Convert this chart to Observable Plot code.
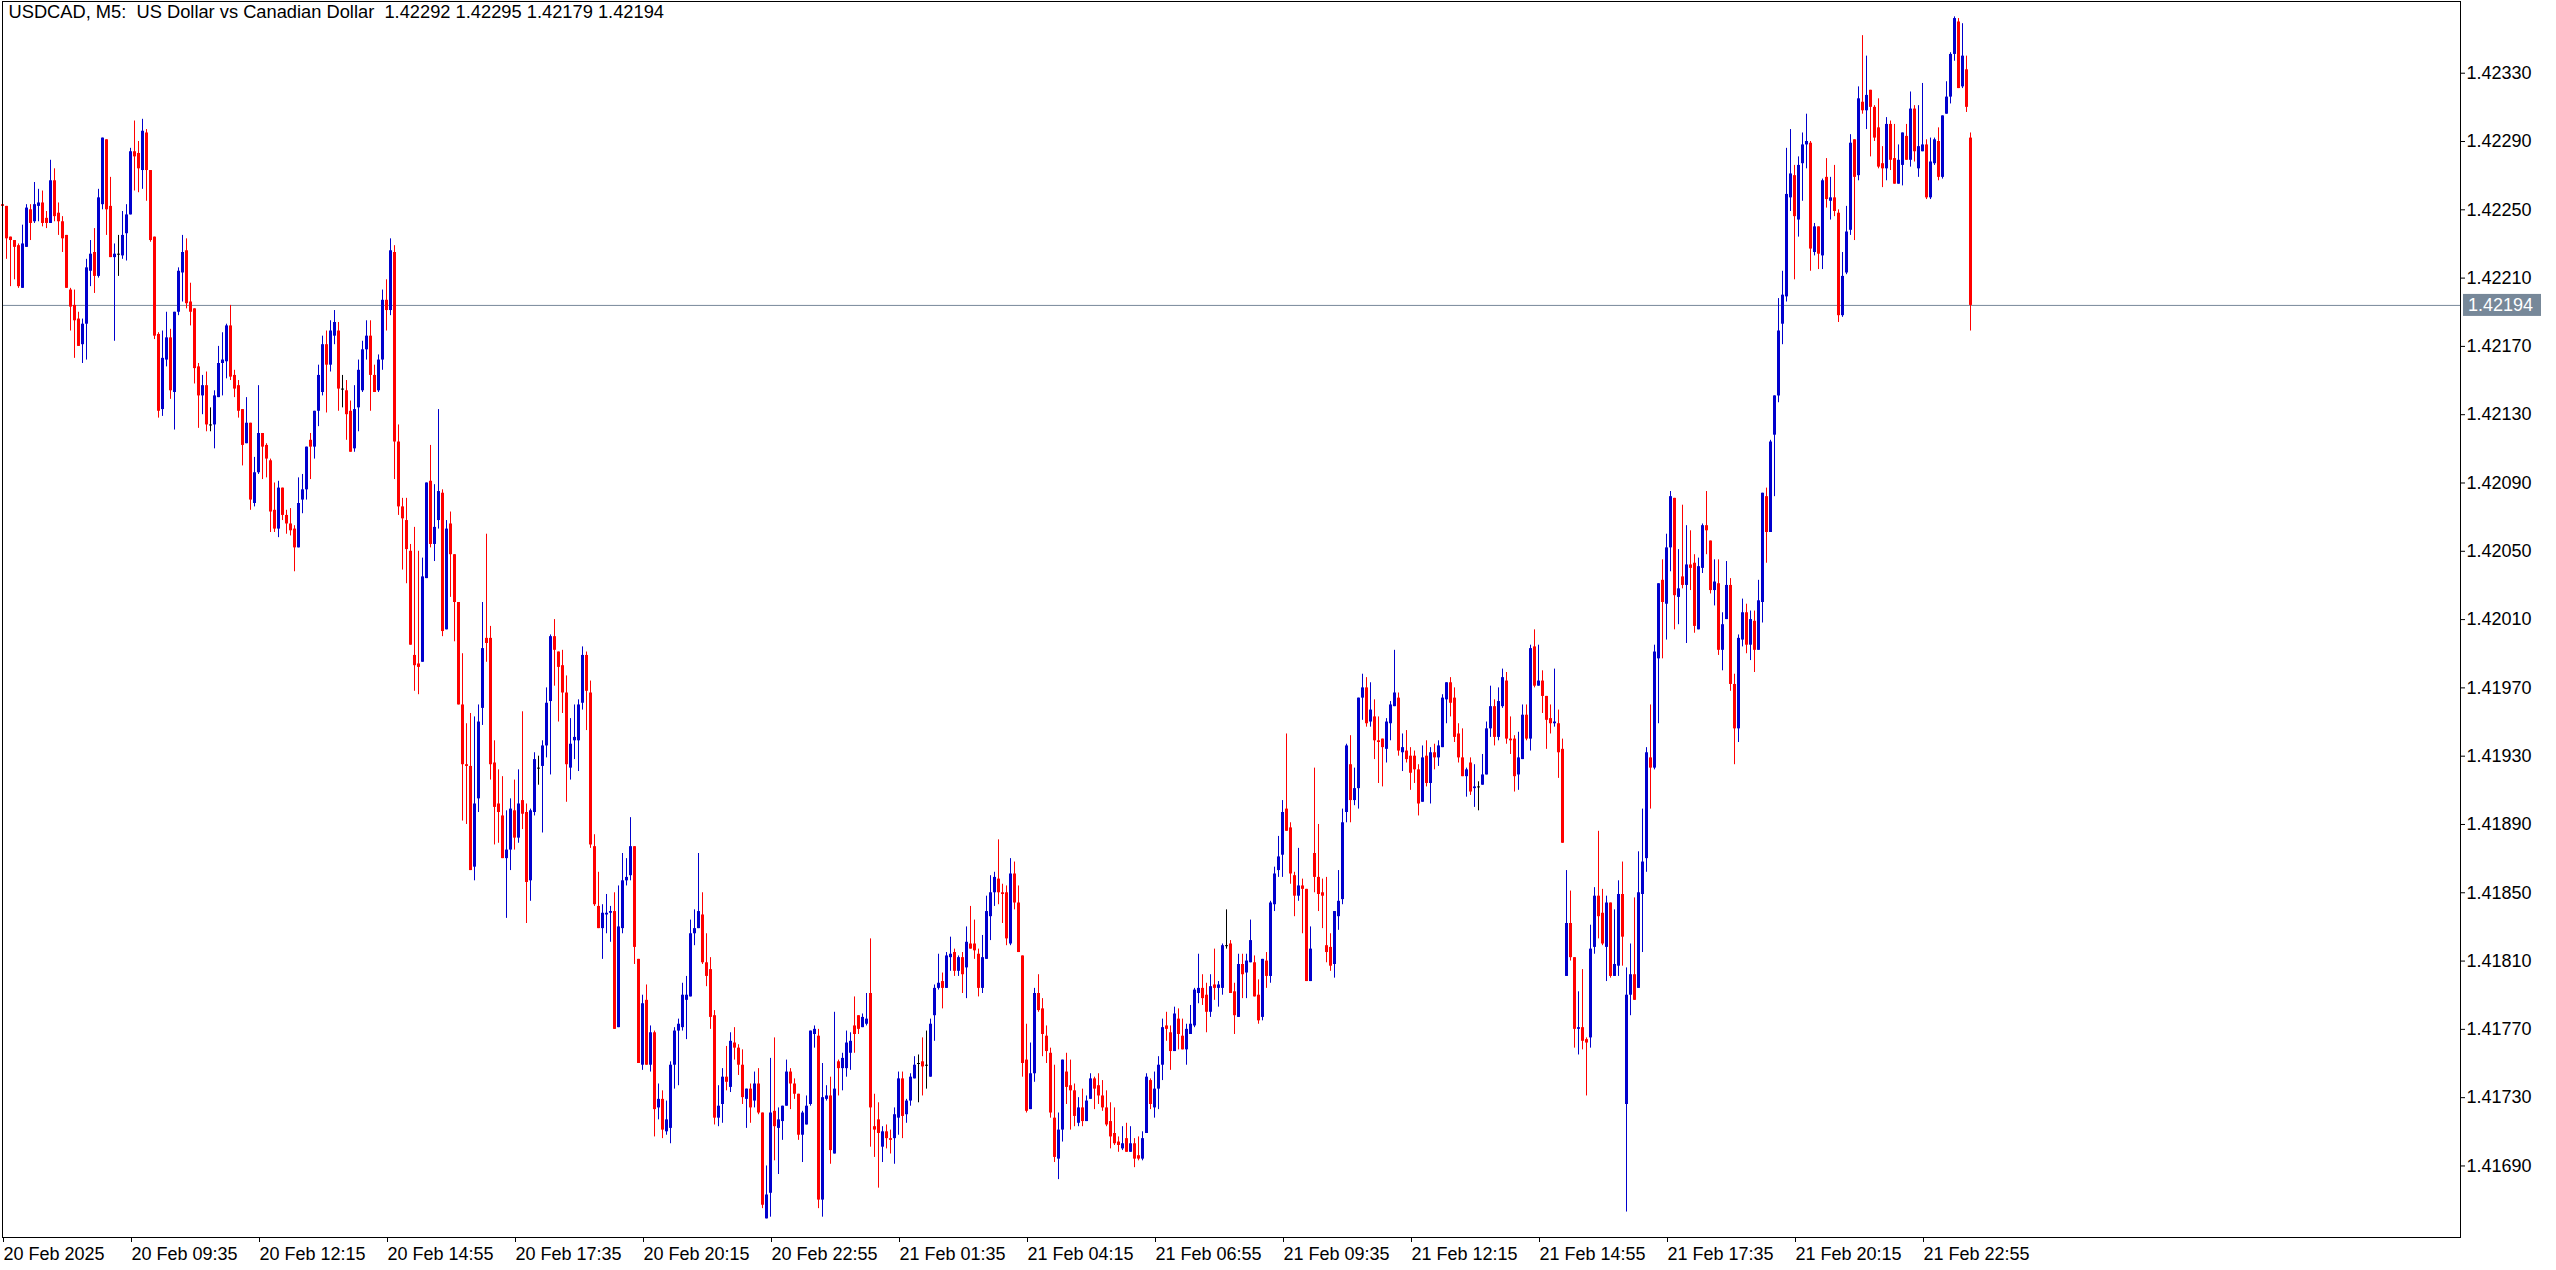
<!DOCTYPE html>
<html>
<head>
<meta charset="utf-8">
<script src="https://cdn.jsdelivr.net/npm/d3@7"></script>
<script src="https://cdn.jsdelivr.net/npm/@observablehq/plot@0.6"></script>
<style>
html,body{margin:0;padding:0;background:#ffffff;overflow:hidden}
#chart svg{display:block}
</style>
</head>
<body>
<div id="chart"></div>
<script>
// USDCAD M5 candles, prices in 1e-5 units (points). Bar 0 = 20 Feb 06:55.
const titleText = "USDCAD, M5:  US Dollar vs Canadian Dollar  1.42292 1.42295 1.42179 1.42194";
const lastPrice = 1.42194;

const OPEN = [
142253,142252,142234,142232,142229,142204,142228,142250,142243,142252,
142254,142245,142242,142267,142248,142243,142235,142203,142194,142186,
142171,142183,142214,142225,142211,142253,142291,142252,142222,142224,
142223,142236,142247,142284,142283,142273,142295,142273,142234,142177,
142133,142162,142175,142143,142190,142213,142226,142196,142192,142158,
142141,142147,142124,142124,142140,142160,142161,142182,142153,142147,
142133,142113,142125,142078,142096,142119,142112,142103,142074,142063,
142087,142071,142066,142063,142052,142080,142086,142115,142111,142132,
142143,142171,142159,142176,142179,142145,142144,142132,142110,142134,
142144,142168,142176,142153,142144,142162,142197,142191,142225,142114,
142076,142068,142050,141989,141984,141985,142034,142091,142054,142068,
142084,142004,142066,142048,142020,141960,141925,141924,141865,141905,
141958,141999,141999,141926,141902,141895,141870,141875,141898,141882,
141904,141897,141857,141897,141923,141924,141936,141962,142000,141991,
141983,141967,141923,141939,141939,141961,141989,141967,141877,141842,
141829,141837,141838,141839,141771,141829,141857,141860,141877,141811,
141749,141787,141749,141768,141724,141729,141710,141712,141749,141769,
141771,141787,141789,141826,141829,141837,141809,141805,141778,141718,
141726,141742,141736,141762,141759,141749,141729,141735,141728,141738,
141721,141659,141674,141722,141712,141716,141725,141745,141738,141732,
141708,141714,141726,141767,141766,141670,141729,141731,141697,141751,
141747,141747,141756,141772,141778,141771,141773,141791,141713,141717,
141701,141710,141706,141706,141718,141741,141720,141728,141741,141750,
141751,141749,141742,141778,141794,141798,141794,141812,141815,141804,
141812,141806,141820,141820,141814,141794,141811,141836,141850,141858,
141850,141850,141820,141861,141844,141813,141752,141723,141744,141791,
141782,141766,141756,141718,141694,141711,141745,141737,141734,141715,
141724,141716,141729,141741,141737,141731,141724,141716,141709,141704,
141700,141706,141698,141703,141696,141694,141709,141740,141724,141735,
141749,141772,141768,141757,141776,141766,141758,141767,141772,141791,
141794,141790,141780,141796,141794,141794,141819,141820,141792,141777,
141808,141803,141809,141809,141790,141777,141810,141801,141843,141863,
141872,141899,141888,141860,141848,141854,141852,141798,141873,141859,
141850,141819,141818,141808,141836,141846,141897,141925,141904,141911,
141964,141970,141950,141953,141939,141940,141934,141949,141959,141964,
141932,141933,141930,141930,141922,141903,141930,141914,141932,141929,
141935,141963,141973,141964,141943,141929,141918,141926,141911,141912,
141913,141919,141946,141959,141941,141959,141974,141940,141940,141919,
141928,141954,141940,141994,141971,141974,141965,141952,141949,141949,
141934,141801,141832,141812,141770,141771,141764,141765,141818,141848,
141838,141818,141844,141801,141807,141849,141726,141790,141802,141794,
141849,141870,141929,141923,141987,142033,142019,142052,142081,142023,
142035,142030,142042,142043,142004,142040,142065,142056,142027,142031,
141992,142010,142030,141972,141946,141998,142014,141995,142009,141992,
142020,142082,142061,142118,142141,142183,142199,142257,142270,142244,
142277,142288,142289,142225,142240,142223,142269,142255,142257,142248,
142188,142213,142238,142291,142270,142313,142308,142320,142310,142298,
142277,142274,142300,142280,142265,142276,142293,142279,142309,142274,
142284,142288,142257,142277,142290,142269,142306,142316,142341,142360,
142322,142332,142292];

const HIGH = [
142254,142252,142234,142232,142230,142241,142253,142253,142266,142262,
142261,142249,142279,142274,142254,142246,142235,142204,142203,142190,
142186,142221,142232,142239,142262,142292,142291,142269,142230,142235,
142249,142253,142286,142302,142290,142303,142297,142273,142234,142178,
142179,142190,142180,142190,142216,142235,142233,142207,142192,142160,
142153,142155,142134,142144,142170,142178,142183,142194,142156,142150,
142133,142140,142125,142105,142147,142119,142113,142104,142090,142091,
142087,142074,142075,142065,142093,142095,142111,142119,142132,142159,
142176,142179,142185,142191,142184,142153,142150,142138,142147,142162,
142173,142185,142185,142159,142165,142203,142209,142233,142229,142124,
142081,142081,142054,142064,142050,142046,142090,142112,142089,142133,
142086,142068,142073,142048,142020,141990,141949,141955,141953,141960,
142020,142060,142006,141939,141922,141918,141898,141905,141916,141922,
141956,141902,141899,141932,141930,141939,141970,142001,142010,141991,
141992,141977,141952,141960,141963,141994,141991,141974,141884,141862,
141843,141849,141842,141850,141854,141873,141870,141894,141877,141811,
141790,141796,141772,141769,141738,141734,141728,141751,141771,141776,
141797,141801,141834,141840,141873,141850,141826,141812,141781,141737,
141747,141760,141768,141771,141761,141758,141735,141738,141745,141747,
141721,141690,141753,141765,141724,141725,141752,141747,141741,141732,
141722,141731,141769,141772,141770,141750,141737,141742,141780,141752,
141756,141769,141768,141789,141778,141779,141791,141823,141732,141727,
141713,141714,141711,141724,141745,141745,141729,141744,141754,141755,
141765,141769,141776,141796,141814,141803,141815,141824,141817,141813,
141815,141830,141842,141834,141817,141825,141848,141860,141862,141881,
141855,141854,141870,141868,141854,141813,141773,141762,141794,141802,
141788,141772,141759,141749,141721,141752,141756,141752,141738,141730,
141735,141731,141744,141742,141744,141740,141734,141727,141724,141707,
141713,141715,141713,141706,141707,141710,141744,141741,141745,141754,
141776,141780,141772,141783,141782,141776,141773,141784,141794,141814,
141802,141797,141802,141817,141798,141820,141840,141822,141797,141814,
141814,141814,141834,141813,141799,141811,141815,141845,141865,141883,
141904,141943,141891,141862,141876,141858,141852,141830,141923,141890,
141858,141859,141826,141839,141863,141899,141937,141942,141923,141964,
141978,141976,141973,141963,141953,141940,141952,141962,141992,141967,
141943,141945,141935,141933,141925,141936,141939,141935,141937,141939,
141966,141973,141976,141970,141949,141946,141923,141929,141925,141915,
141931,141950,141971,141963,141970,141981,141979,141953,141942,141944,
141960,141960,141995,142004,141995,141980,141965,141960,141981,141957,
141940,141863,141851,141812,141792,141805,141765,141831,141853,141886,
141852,141848,141844,141840,141857,141868,141806,141820,141847,141874,
141899,141935,141960,141995,142031,142045,142060,142085,142081,142051,
142077,142065,142062,142048,142046,142066,142085,142056,142045,142045,
142014,142044,142034,141978,142001,142022,142019,142015,142015,142033,
142084,142087,142115,142141,142198,142214,142286,142297,142276,142281,
142295,142306,142290,142242,142240,142268,142280,142269,142276,142250,
142225,142252,142294,142291,142322,142352,142340,142320,142311,142315,
142287,142304,142302,142300,142288,142295,142300,142319,142311,142311,
142324,142291,142292,142292,142298,142305,142325,142342,142363,142362,
142359,142340,142295];

const LOW = [
142252,142221,142205,142209,142204,142204,142228,142232,142242,142243,
142240,142239,142242,142243,142235,142225,142204,142179,142163,142170,
142160,142162,142205,142201,142210,142250,142235,142222,142173,142211,
142221,142220,142247,142261,142260,142262,142255,142231,142174,142128,
142129,142158,142139,142121,142188,142196,142192,142182,142148,142122,
142130,142120,142120,142110,142140,142141,142151,142150,142140,142128,
142100,142113,142074,142076,142095,142092,142093,142061,142061,142058,
142068,142060,142059,142038,142052,142072,142080,142092,142104,142123,
142141,142131,142155,142171,142132,142134,142115,142108,142108,142120,
142143,142162,142132,142143,142143,142156,142179,142188,142092,142071,
142039,142031,141995,141968,141966,141985,142034,142052,142044,142063,
142000,142004,142023,141997,141960,141892,141890,141863,141857,141897,
141948,141985,141916,141878,141879,141870,141835,141863,141875,141879,
141887,141832,141845,141895,141913,141885,141929,141919,141971,141950,
141955,141903,141916,141928,141921,141957,141945,141876,141842,141829,
141811,141826,141821,141770,141771,141826,141854,141857,141808,141750,
141746,141749,141745,141707,141717,141706,141708,141703,141735,141737,
141769,141764,141789,141819,141829,141808,141795,141770,141714,141713,
141715,141734,141733,141752,141743,141726,141712,141715,141724,141720,
141665,141659,141660,141693,141685,141705,141725,141723,141729,141705,
141692,141714,141725,141759,141665,141660,141728,141691,141697,141731,
141734,141742,141746,141756,141767,141771,141772,141701,141695,141677,
141692,141700,141697,141691,141708,141706,141715,141725,141741,141727,
141731,141735,141742,141763,141793,141782,141794,141804,141801,141801,
141791,141788,141817,141811,141789,141791,141811,141822,141842,141843,
141832,141819,141819,141840,141815,141742,141721,141723,141739,141780,
141754,141750,141718,141692,141682,141704,141726,141711,141713,141713,
141713,141716,141729,141723,141726,141722,141713,141700,141702,141698,
141699,141698,141698,141689,141693,141693,141709,141723,141718,141723,
141740,141763,141746,141757,141758,141758,141749,141767,141771,141785,
141784,141768,141777,141787,141783,141790,141817,141791,141767,141777,
141788,141788,141809,141789,141773,141775,141794,141797,141839,141859,
141859,141886,141855,141836,141845,141826,141798,141798,141850,141839,
141829,141809,141804,141800,141828,141843,141891,141891,141901,141899,
141951,141947,141947,141928,141914,141912,141926,141939,141959,141930,
141921,141926,141910,141914,141895,141903,141912,141902,141922,141924,
141935,141949,141953,141938,141926,141918,141906,141907,141900,141898,
141913,141919,141941,141936,141939,141958,141937,141931,141909,141910,
141928,141939,141933,141970,141971,141955,141934,141943,141947,141917,
141879,141801,141810,141759,141755,141758,141731,141759,141814,141823,
141819,141798,141800,141801,141801,141807,141663,141778,141787,141794,
141815,141862,141899,141922,141949,141987,141998,142038,142004,142007,
142028,141996,142027,142002,142004,142037,142048,142025,142018,141989,
141980,142010,141968,141925,141938,141994,141990,141986,141979,141992,
142008,142043,142061,142082,142137,142171,142196,142249,142209,142234,
142255,142274,142214,142223,142215,142215,142251,142244,142246,142184,
142187,142212,142235,142232,142267,142306,142297,142281,142290,142274,
142263,142267,142273,142265,142265,142264,142279,142275,142278,142269,
142284,142256,142256,142276,142267,142268,142306,142312,142337,142321,
142321,142307,142179];

const CLOSE = [
142252,142233,142232,142228,142205,142230,142251,142242,142253,142254,
142242,142242,142267,142246,142243,142233,142204,142193,142185,142170,
142183,142216,142224,142211,142257,142292,142250,142222,142224,142224,
142235,142247,142284,142281,142274,142296,142273,142232,142176,142132,
142163,142175,142144,142190,142214,142225,142195,142190,142157,142141,
142147,142124,142124,142141,142160,142162,142182,142152,142145,142132,
142112,142125,142080,142096,142119,142111,142104,142073,142063,142087,
142071,142066,142062,142052,142078,142086,142111,142111,142132,142153,
142171,142159,142179,142184,142145,142145,142130,142108,142133,142156,
142168,142176,142153,142143,142162,142197,142191,142226,142114,142076,
142069,142051,141995,141983,141982,142035,142090,142054,142064,142085,
142003,142063,142048,142020,141960,141925,141924,141863,141902,141950,
141993,141996,141925,141900,141897,141870,141875,141899,141882,141902,
141896,141856,141898,141928,141923,141936,141961,142000,141992,141982,
141967,141925,141937,141941,141960,141989,141968,141878,141843,141829,
141838,141838,141839,141770,141830,141857,141859,141877,141818,141750,
141785,141749,141768,141723,141729,141711,141717,141749,141769,141773,
141790,141790,141826,141829,141839,141809,141801,141777,141718,141725,
141742,141739,141763,141759,141749,141730,141735,141724,141738,141721,
141667,141673,141721,141713,141717,141725,141745,141738,141732,141708,
141721,141725,141769,141770,141670,141730,141731,141699,141735,141747,
141753,141762,141763,141767,141770,141777,141776,141724,141711,141709,
141710,141706,141705,141720,141741,141719,141728,141742,141749,141750,
141748,141749,141773,141794,141797,141794,141813,141814,141804,141812,
141802,141821,141817,141816,141794,141812,141839,141850,141859,141850,
141849,141823,141861,141844,141815,141750,141722,141744,141791,141781,
141767,141757,141721,141695,141711,141752,141736,141734,141719,141724,
141716,141728,141741,141735,141731,141724,141714,141707,141703,141702,
141703,141698,141703,141694,141694,141706,141742,141726,141735,141749,
141771,141770,141757,141779,141767,141758,141770,141773,141793,141794,
141788,141780,141795,141794,141796,141819,141819,141791,141778,141808,
141802,141810,141822,141789,141775,141811,141801,141844,141861,141871,
141897,141886,141861,141848,141854,141852,141798,141817,141859,141849,
141848,141815,141807,141839,141845,141891,141936,141904,141911,141964,
141970,141949,141957,141939,141938,141935,141950,141960,141967,141933,
141935,141928,141920,141922,141902,141929,141914,141932,141929,141936,
141964,141973,141961,141941,141929,141918,141922,141909,141912,141912,
141919,141946,141959,141941,141962,141976,141940,141939,141918,141929,
141954,141940,141993,141971,141974,141965,141951,141949,141950,141932,
141879,141832,141812,141770,141771,141763,141762,141817,141848,141836,
141820,141844,141801,141808,141849,141824,141790,141802,141787,141850,
141868,141932,141923,141991,142031,142020,142052,142082,142024,142028,
142030,142042,142040,142006,142041,142065,142062,142027,142032,141992,
142007,142030,141972,141946,141999,142014,141995,142010,141992,142021,
142084,142061,142114,142141,142179,142200,142259,142271,142246,142276,
142288,142290,142227,142240,142224,142267,142256,142257,142249,142188,
142211,142237,142289,142269,142315,142308,142317,142310,142292,142275,
142274,142300,142279,142265,142279,142295,142279,142309,142284,142287,
142288,142257,142278,142291,142269,142305,142316,142341,142362,142321,
142340,142310,142194];

const yTicks = [1.41690,1.41730,1.41770,1.41810,1.41850,1.41890,1.41930,1.41970,1.42010,
                1.42050,1.42090,1.42130,1.42170,1.42210,1.42250,1.42290,1.42330];
const xTickIndex = [0,32,64,96,128,160,192,224,256,288,320,352,384,416,448,480];
const xTickLabels = ["20 Feb 2025","20 Feb 09:35","20 Feb 12:15","20 Feb 14:55","20 Feb 17:35",
  "20 Feb 20:15","20 Feb 22:55","21 Feb 01:35","21 Feb 04:15","21 Feb 06:55","21 Feb 09:35",
  "21 Feb 12:15","21 Feb 14:55","21 Feb 17:35","21 Feb 20:15","21 Feb 22:55"];

const BULL = "#0000cd", BEAR = "#ff0000", DOJI = "#000000", PRICE = "#778899";

const n = Math.min(OPEN.length, HIGH.length, LOW.length, CLOSE.length);
const bars = d3.range(n).map(i => ({
  i, open: OPEN[i] / 1e5, high: HIGH[i] / 1e5, low: LOW[i] / 1e5, close: CLOSE[i] / 1e5
}));
const colorOf = d => d.close > d.open ? BULL : d.close < d.open ? BEAR : DOJI;
const dojis = bars.filter(d => d.close === d.open);
const labelOf = new Map(xTickIndex.map((v, k) => [v, xTickLabels[k]]));

const font = "'Liberation Sans', Arial, sans-serif";

const plot = Plot.plot({
  width: 2556,
  height: 1270,
  marginLeft: 2,
  marginRight: 96,
  marginTop: 1,
  marginBottom: 33,
  style: {fontFamily: font, fontSize: "18px", background: "#ffffff", color: "#000000", overflow: "visible"},
  x: {type: "linear", domain: [0, 614.5], label: null},
  y: {type: "linear", domain: [1.416481, 1.423720], label: null},
  marks: [
    Plot.ruleY([lastPrice], {stroke: PRICE, strokeWidth: 1}),
    Plot.ruleX(bars, {x: "i", y1: "low", y2: "high", stroke: colorOf, strokeWidth: 1}),
    Plot.ruleX(bars, {x: "i", y1: "open", y2: "close", stroke: colorOf, strokeWidth: 3}),
    Plot.ruleY(dojis, {y: "open", x1: d => d.i - 0.25, x2: d => d.i + 0.5, stroke: DOJI, strokeWidth: 1}),
    Plot.frame({stroke: "#000000"}),
    Plot.axisY(yTicks, {anchor: "right", label: null, tickFormat: d3.format(".5f"), tickSize: 4, tickPadding: 2,
      fontSize: 18, stroke: "#000000"}),
    Plot.axisX(xTickIndex, {anchor: "bottom", label: null, tickFormat: d => labelOf.get(d), tickSize: 5, tickPadding: 5,
      textAnchor: "start", dx: 1, fontSize: 18, stroke: "#000000"}),
    Plot.text([titleText], {frameAnchor: "top-left", textAnchor: "start", lineAnchor: "top",
      dx: 6, dy: 3, fontSize: 18.3, fill: "#000000"})
  ]
});

// current-price tag on the right axis, positioned through the plot's own y scale
const yScale = plot.scale("y");
const py = yScale.apply(lastPrice);
const tag = d3.select(plot).append("g");
tag.append("rect").attr("x", 2463).attr("y", py - 11).attr("width", 78).attr("height", 22).attr("fill", PRICE);
tag.append("text").attr("x", 2468).attr("y", py).attr("dy", "0.35em").attr("fill", "#ffffff")
  .attr("text-anchor", "start").attr("font-family", font).attr("font-size", 18)
  .text(d3.format(".5f")(lastPrice));

document.getElementById("chart").appendChild(plot);
</script>
</body>
</html>
